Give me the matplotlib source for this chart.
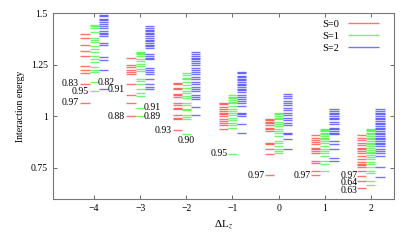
import numpy as np
import matplotlib
matplotlib.use('Agg')
import matplotlib.pyplot as plt

plt.rcParams['font.family'] = ['Liberation Serif', 'DejaVu Serif']
plt.rcParams['mathtext.fontset'] = 'stix'

# Delta L_z values
dlz = [-4, -3, -2, -1, 0, 1, 2]

# energy levels, one list per Delta L_z
s0 = [
    [1.397, 1.379, 1.347, 1.319, 1.292, 1.245, 1.226, 1.211, 1.158, 1.066],
    [1.284, 1.248, 1.238, 1.227, 1.216, 1.203, 1.158, 1.106, 1.066, 1.001],
    [1.162, 1.158, 1.139, 1.134, 1.110, 1.103, 1.095, 1.066, 1.053, 1.042, 1.034,
     1.005, 0.994, 0.985, 0.934],
    [1.066, 1.058, 1.047, 1.034, 1.026, 1.018, 1.010, 1.001, 0.989, 0.977, 0.969,
     0.956, 0.937],
    [0.989, 0.982, 0.972, 0.966, 0.956, 0.945, 0.937, 0.929, 0.873, 0.865, 0.844,
     0.819, 0.715],
    [0.908, 0.897, 0.885, 0.876, 0.865, 0.849, 0.844, 0.832, 0.821, 0.784, 0.776,
     0.735, 0.716],
    [0.908, 0.897, 0.885, 0.872, 0.859, 0.849, 0.840, 0.832, 0.821, 0.808, 0.792,
     0.779, 0.768, 0.763, 0.757, 0.735, 0.711, 0.687, 0.655],
]
s1 = [
    [1.443, 1.437, 1.429, 1.411, 1.380, 1.372, 1.359, 1.340, 1.327, 1.311, 1.295,
     1.279, 1.263, 1.238, 1.227, 1.216, 1.166, 1.122],
    [1.313, 1.308, 1.300, 1.292, 1.279, 1.267, 1.255, 1.243, 1.231, 1.219, 1.179,
     1.171, 1.155, 1.134, 1.115, 1.098, 1.042, 1.001],
    [1.208, 1.202, 1.187, 1.179, 1.166, 1.153, 1.139, 1.122, 1.115, 1.098, 1.090,
     1.063, 1.053, 1.037, 1.030, 1.005, 0.999, 0.985, 0.913],
    [1.103, 1.095, 1.087, 1.079, 1.071, 1.063, 1.050, 1.037, 1.026, 1.015, 1.005,
     0.994, 0.982, 0.969, 0.956, 0.945, 0.819],
    [1.018, 1.010, 1.001, 0.994, 0.985, 0.972, 0.961, 0.953, 0.940, 0.929, 0.918,
     0.905, 0.881, 0.873, 0.856, 0.844, 0.832, 0.824],
    [0.940, 0.934, 0.927, 0.921, 0.913, 0.905, 0.897, 0.889, 0.881, 0.873, 0.856,
     0.844, 0.832, 0.821, 0.808, 0.784, 0.768, 0.735],
    [0.940, 0.934, 0.927, 0.921, 0.913, 0.905, 0.897, 0.889, 0.881, 0.873, 0.865,
     0.856, 0.849, 0.837, 0.827, 0.821, 0.811, 0.805, 0.792, 0.779, 0.768, 0.757,
     0.735, 0.727, 0.687, 0.666],
]
s2 = [
    [1.493, 1.485, 1.472, 1.466, 1.456, 1.450, 1.440, 1.429, 1.412, 1.405, 1.397,
     1.388, 1.356, 1.348, 1.289, 1.271, 1.224, 1.131],
    [1.438, 1.429, 1.421, 1.412, 1.405, 1.397, 1.388, 1.380, 1.372, 1.364, 1.356,
     1.348, 1.340, 1.332, 1.300, 1.292, 1.284, 1.276, 1.235, 1.227, 1.214, 1.203,
     1.179, 1.155, 1.144, 1.131],
    [1.313, 1.300, 1.292, 1.284, 1.276, 1.267, 1.260, 1.247, 1.235, 1.224, 1.214,
     1.203, 1.192, 1.179, 1.166, 1.155, 1.144, 1.131, 1.122, 1.106, 1.095, 1.082,
     1.047, 1.005],
    [1.214, 1.208, 1.198, 1.190, 1.182, 1.174, 1.166, 1.158, 1.150, 1.144, 1.134,
     1.127, 1.117, 1.106, 1.095, 1.085, 1.074, 1.063, 1.050, 1.018, 1.010, 1.001,
     0.961, 0.921],
    [1.110, 1.098, 1.087, 1.074, 1.066, 1.053, 1.042, 1.030, 1.018, 1.005, 0.994,
     0.982, 0.969, 0.956, 0.921, 0.913, 0.889, 0.840],
    [1.034, 1.026, 1.018, 1.010, 1.001, 0.994, 0.985, 0.972, 0.961, 0.945, 0.937,
     0.929, 0.921, 0.913, 0.881, 0.865, 0.840, 0.800, 0.784],
    [1.034, 1.026, 1.018, 1.010, 1.001, 0.994, 0.985, 0.977, 0.969, 0.961, 0.953,
     0.945, 0.937, 0.929, 0.921, 0.913, 0.905, 0.897, 0.889, 0.881, 0.873, 0.865,
     0.856, 0.844, 0.832, 0.824, 0.808, 0.757, 0.704],
]

# annotations: (x, energy, text, alignment)
ann_x = [-4.33, -3.92, -4.11, -3.70, -4.33, -2.92, -2.92, -3.33,
         -2.33, -2.0, -1.11, -0.31, 0.69, 1.71, 1.71, 1.71]
ann_y = [1.158, 1.166, 1.122, 1.131, 1.066, 1.042, 1.001, 1.001,
         0.934, 0.882, 0.819, 0.715, 0.716, 0.716, 0.679, 0.642]
ann_txt = ['0.83', '0.82', '0.95', '0.91', '0.97', '0.91', '0.89', '0.88',
           '0.93', '0.90', '0.95', '0.97', '0.97', '0.97', '0.64', '0.63']
ann_ha = ['right', 'left', 'right', 'left', 'right', 'left', 'left', 'right',
          'right', 'center', 'right', 'right', 'right', 'right', 'right', 'right']

fig = plt.figure(figsize=(4.15, 2.49), dpi=100)
ax = fig.add_axes([0.127, 0.201, 0.822, 0.746])

sets = [(s0, -0.2, '#ff0000', 'S=0'), (s1, 0.0, '#00ee00', 'S=1'), (s2, 0.2, '#0000ff', 'S=2')]
for lev, off, col, lab in sets:
    for i, x in enumerate(dlz):
        ax.hlines(lev[i], x + off - 0.1, x + off + 0.1, colors=col, lw=1.0, alpha=0.55,
                  label=lab if i == 0 else None)

for x, y, t, ha in zip(ann_x, ann_y, ann_txt, ann_ha):
    ax.text(x, y, t, ha=ha, va='center', fontsize=7)

ax.set_xlim(-4.9, 2.5)
ax.set_ylim(0.6, 1.5)
ax.set_xticks(dlz)
ax.set_yticks([0.75, 1.0, 1.25, 1.5])
ax.set_yticklabels(['0.75', '1', '1.25', '1.5'])
ax.tick_params(direction='in', top=True, right=True, length=3, width=0.6,
               labelsize=7, colors='#555555', labelcolor='black')
for s in ax.spines.values():
    s.set_color('#777777')
    s.set_linewidth(0.8)

ax.set_xlabel('ΔL$_z$', fontsize=8)
ax.set_ylabel('Interaction energy', fontsize=7)

ax.legend(loc='upper right', bbox_to_anchor=(0.975, 1.0), frameon=False,
          markerfirst=False, fontsize=7.5, handlelength=3.0, labelspacing=0.25,
          borderaxespad=0.2)

plt.savefig('out.png', dpi=100)
